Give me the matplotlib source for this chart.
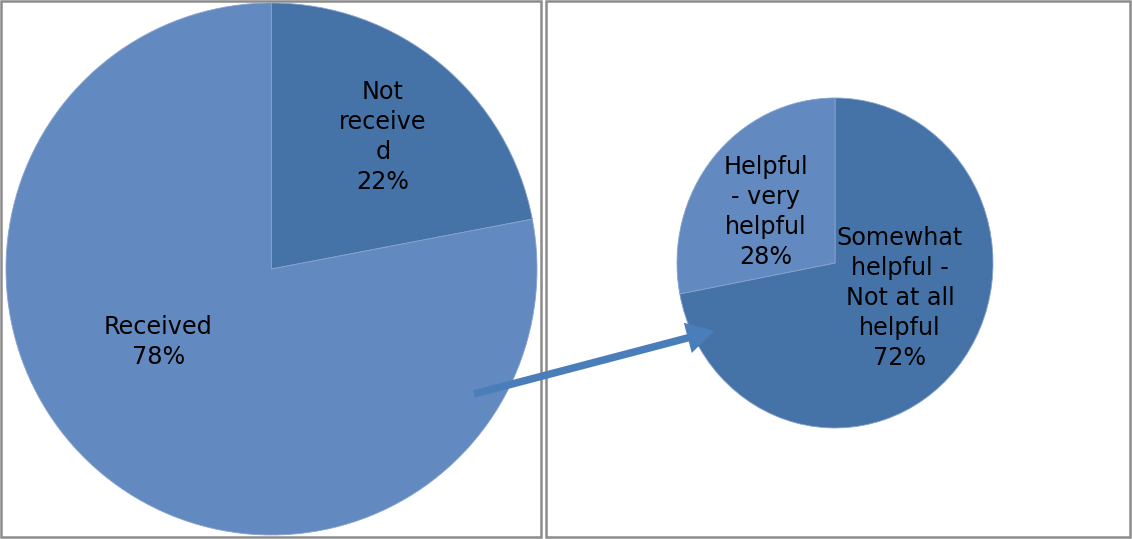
import matplotlib
matplotlib.use('Agg')
import matplotlib.pyplot as plt
from matplotlib.patches import Rectangle

W, H = 1132, 539

# data
left_labels = ['Not\nreceive\nd\n22%', 'Received\n78%']
left_values = [22, 78]
right_labels = ['Somewhat\nhelpful -\nNot at all\nhelpful\n72%', 'Helpful\n- very\nhelpful\n28%']
right_values = [72, 28]

dark = '#4573a7'
light = '#628ac0'
arrow_col = '#4a7ebb'
border = '#8c8c8c'

fig = plt.figure(figsize=(W / 100, H / 100), dpi=100)
fig.patch.set_facecolor('white')


def px_axes(x0, y0, x1, y1, **kw):
    # axes from pixel box (y measured from top)
    return fig.add_axes([x0 / W, (H - y1) / H, (x1 - x0) / W, (y1 - y0) / H], **kw)


# panel borders
bg = px_axes(0, 0, W, H)
bg.set_xlim(0, W)
bg.set_ylim(H, 0)
bg.axis('off')
bg.add_patch(Rectangle((1, 1), 540, 536, fill=False, ec=border, lw=1.8))
bg.add_patch(Rectangle((546, 1), 584, 536, fill=False, ec=border, lw=1.8))


def draw_pie(ax, values, labels, colors, label_pos):
    wedges, _ = ax.pie(values, colors=colors, startangle=90, counterclock=False,
                       wedgeprops=dict(edgecolor='#86a3cd', linewidth=0.6))
    ax.set_aspect('auto')
    ax.set_xlim(-1, 1)
    ax.set_ylim(-1, 1)
    ax.axis('off')
    for lab, (x, y) in zip(labels, label_pos):
        ax.text(x, y, lab, ha='center', va='center', fontsize=17.2,
                linespacing=1.32, color='black', family='DejaVu Sans')


axl = px_axes(6, 3, 537, 535)
draw_pie(axl, left_values, left_labels, [dark, light],
         [(0.42, 0.496), (-0.427, -0.274)])

axr = px_axes(677, 98, 993, 428)
draw_pie(axr, right_values, right_labels, [dark, light],
         [(0.411, -0.212), (-0.437, 0.309)])

# arrow on top of everything
ov = px_axes(0, 0, W, H, zorder=10)
ov.set_xlim(0, W)
ov.set_ylim(H, 0)
ov.axis('off')
ov.patch.set_alpha(0)
ov.annotate('', xy=(714, 331), xytext=(474, 394),
            arrowprops=dict(arrowstyle='simple,head_length=1.3,head_width=1.5,tail_width=0.36',
                            mutation_scale=15, fc=arrow_col, ec='none',
                            shrinkA=0, shrinkB=0))

fig.savefig('out.png', dpi=100)
